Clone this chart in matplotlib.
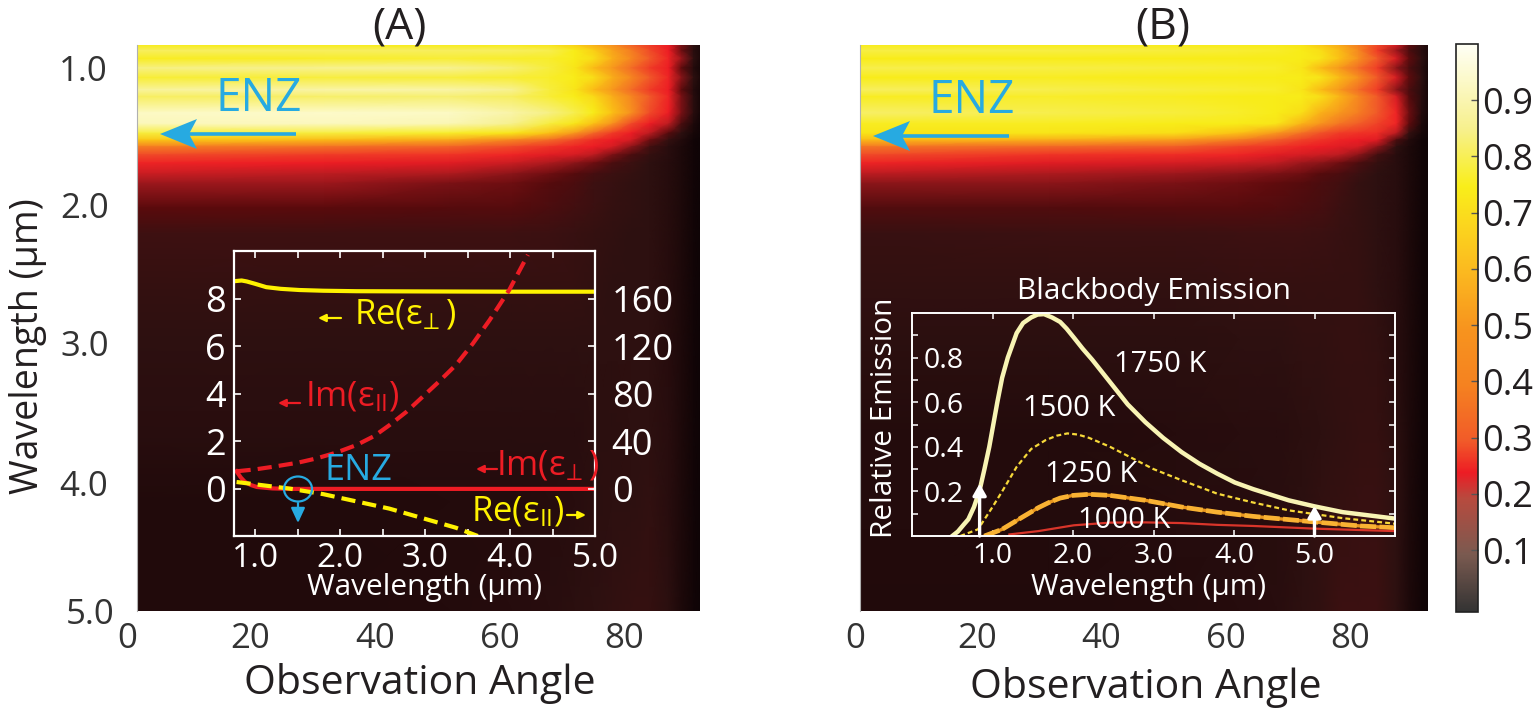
import numpy as np
import matplotlib
matplotlib.use("Agg")
import matplotlib.pyplot as plt
from matplotlib.colors import LinearSegmentedColormap, Normalize
from matplotlib.cm import ScalarMappable
from matplotlib.patches import Ellipse, Polygon
from matplotlib.transforms import Affine2D

plt.rcParams['font.family'] = ['Open Sans', 'DejaVu Sans']
plt.rcParams['mathtext.fontset'] = 'custom'
plt.rcParams['mathtext.rm'] = 'Open Sans'
plt.rcParams['mathtext.it'] = 'Open Sans'
plt.rcParams['mathtext.bf'] = 'Open Sans'

W, H = 1535, 708

# heat maps
angles = [0, 30, 50, 60, 66, 70, 73, 76, 79, 82, 85, 87, 89, 90]
wavelengths = [0.83, 0.87, 0.93, 1.00, 1.07, 1.16, 1.21, 1.33, 1.41, 1.48, 1.53, 1.58, 1.64,
               1.70, 1.78, 1.85, 2.03, 2.22, 2.60, 3.00, 3.70, 4.20, 5.00]
map_a = [
    [.72, .72, .72, .72, .70, .64, .54, .44, .34, .28, .24, .16, .08, .05],
    [.80, .80, .80, .80, .78, .72, .64, .50, .40, .30, .24, .15, .07, .05],
    [.73, .74, .75, .74, .74, .72, .68, .54, .42, .32, .25, .18, .08, .05],
    [.84, .86, .86, .82, .76, .70, .58, .46, .36, .28, .24, .14, .06, .04],
    [.75, .76, .76, .75, .74, .72, .68, .54, .42, .32, .25, .17, .08, .05],
    [.88, .90, .90, .86, .76, .70, .58, .46, .36, .28, .24, .14, .06, .04],
    [.80, .81, .82, .80, .75, .72, .67, .54, .42, .32, .25, .16, .07, .04],
    [.95, .96, .95, .90, .84, .78, .72, .60, .44, .30, .24, .16, .07, .04],
    [.93, .94, .92, .85, .76, .70, .60, .44, .30, .24, .20, .12, .05, .03],
    [.76, .76, .74, .70, .60, .46, .35, .28, .24, .20, .13, .08, .04, .03],
    [.62, .58, .52, .42, .36, .30, .26, .24, .22, .15, .09, .06, .03, .02],
    [.40, .37, .34, .30, .27, .25, .24, .22, .17, .11, .07, .05, .03, .02],
    [.30, .28, .27, .25, .23, .22, .20, .16, .12, .09, .07, .05, .03, .02],
    [.25, .24, .23, .21, .19, .17, .15, .12, .10, .08, .065, .05, .03, .02],
    [.21, .20, .19, .17, .15, .13, .115, .10, .09, .08, .065, .05, .03, .02],
    [.18, .18, .16, .15, .13, .12, .105, .095, .085, .08, .065, .05, .03, .02],
    [.135, .135, .13, .13, .12, .11, .10, .09, .085, .08, .065, .05, .03, .02],
    [.105, .105, .105, .105, .10, .095, .09, .085, .08, .08, .065, .05, .03, .02],
    [.09, .09, .09, .09, .09, .09, .085, .08, .08, .08, .065, .05, .03, .02],
    [.08, .08, .08, .08, .08, .08, .08, .08, .08, .08, .065, .05, .03, .02],
    [.07, .07, .07, .07, .07, .07, .075, .075, .08, .08, .07, .05, .03, .02],
    [.055, .055, .06, .06, .065, .07, .075, .08, .08, .085, .07, .05, .03, .02],
    [.055, .055, .06, .065, .07, .075, .08, .085, .09, .09, .075, .05, .03, .02],
]
map_b = [
    [.72, .72, .72, .72, .72, .70, .62, .52, .40, .30, .22, .14, .08, .05],
    [.77, .77, .76, .75, .74, .72, .68, .58, .42, .28, .18, .12, .07, .05],
    [.72, .72, .72, .72, .72, .72, .70, .60, .44, .32, .22, .14, .08, .05],
    [.78, .77, .76, .75, .74, .70, .58, .46, .36, .28, .17, .12, .07, .04],
    [.72, .73, .72, .72, .72, .72, .70, .58, .44, .32, .22, .14, .08, .04],
    [.80, .78, .76, .75, .74, .70, .58, .46, .36, .28, .17, .12, .07, .04],
    [.73, .74, .73, .72, .72, .72, .68, .56, .42, .32, .22, .13, .07, .04],
    [.81, .78, .76, .74, .72, .68, .55, .46, .40, .32, .25, .15, .06, .04],
    [.73, .73, .72, .72, .70, .56, .45, .38, .33, .29, .25, .14, .05, .03],
    [.70, .70, .68, .60, .46, .37, .31, .28, .27, .26, .20, .09, .04, .03],
    [.58, .54, .48, .40, .33, .29, .27, .25, .24, .23, .12, .06, .03, .02],
    [.38, .35, .33, .29, .27, .25, .24, .23, .22, .17, .08, .05, .03, .02],
    [.30, .27, .26, .25, .23, .22, .21, .20, .17, .11, .07, .05, .03, .02],
    [.25, .23, .22, .21, .20, .18, .17, .15, .12, .09, .07, .05, .03, .02],
    [.20, .19, .18, .17, .16, .15, .13, .12, .10, .08, .07, .05, .03, .02],
    [.17, .17, .16, .15, .14, .13, .12, .11, .09, .08, .07, .05, .03, .02],
    [.125, .125, .13, .13, .125, .12, .115, .10, .09, .08, .07, .05, .03, .02],
    [.095, .10, .10, .105, .105, .105, .10, .095, .09, .08, .07, .05, .03, .02],
    [.085, .085, .085, .09, .09, .09, .09, .09, .09, .08, .07, .05, .03, .02],
    [.075, .075, .075, .08, .08, .085, .085, .09, .09, .085, .07, .05, .03, .02],
    [.06, .06, .065, .07, .07, .075, .08, .085, .09, .09, .075, .05, .03, .02],
    [.06, .06, .065, .065, .07, .075, .085, .09, .095, .095, .08, .05, .03, .02],
    [.055, .055, .06, .065, .07, .08, .085, .10, .10, .10, .08, .05, .03, .02],
]

# inset A curves, left axis units
re_perp_x = [0.78, 0.84, 0.90, 1.00, 1.13, 1.30, 1.52, 1.80, 2.19, 3.00, 4.00, 5.00]
re_perp_y = [8.74, 8.76, 8.72, 8.62, 8.48, 8.41, 8.36, 8.33, 8.31, 8.30, 8.29, 8.29]
im_par_x = [0.78, 1.00, 1.21, 1.50, 1.72, 1.95, 2.19, 2.40, 2.58, 2.78, 2.97, 3.16, 3.36, 3.56, 3.76, 3.99, 4.21]
im_par_y = [0.74, 0.82, 0.93, 1.10, 1.28, 1.52, 1.84, 2.22, 2.68, 3.24, 3.87, 4.50, 5.20, 6.10, 7.10, 8.36, 9.84]
im_perp_x = [0.78, 0.83, 0.88, 0.95, 1.02, 1.20, 1.41, 2.00, 5.00]
im_perp_y = [0.74, 0.48, 0.29, 0.16, 0.08, 0.02, 0.00, 0.00, 0.00]
re_par_x = [0.78, 1.41, 1.80, 2.58, 3.36, 3.62]
re_par_y = [0.29, 0.01, -0.22, -0.83, -1.63, -1.98]

# inset B curves
bb1750_x = [.50, .57, .64, .70, .77, .84, .90, .96, 1.06, 1.12, 1.19, 1.30, 1.38, 1.48, 1.56, 1.64, 1.74, 1.84,
            1.92, 2.01, 2.12, 2.24, 2.46, 2.68, 2.90, 3.12, 3.35, 3.57, 3.79, 4.01, 4.24, 4.68, 5.00, 5.35, 6.00]
bb1750_y = [.00, .02, .05, .075, .13, .205, .30, .40, .60, .71, .80, .91, .955, .98, .993, .995, .98, .96,
            .93, .89, .84, .79, .69, .59, .51, .44, .376, .324, .28, .24, .21, .16, .133, .107, .078]
bb1500_x = [.60, .82, 1.00, 1.12, 1.30, 1.48, 1.66, 1.80, 1.93, 2.06, 2.20, 2.46, 2.73, 3.00, 3.35, 3.79, 4.24, 4.68, 5.35, 6.00]
bb1500_y = [.00, .03, .13, .20, .31, .39, .43, .45, .46, .455, .44, .40, .35, .30, .25, .19, .15, .115, .08, .055]
bb1250_x = [.90, 1.12, 1.35, 1.57, 1.70, 1.84, 2.00, 2.20, 2.46, 2.90, 3.35, 3.79, 4.24, 5.00, 5.57, 6.00]
bb1250_y = [.00, .03, .08, .127, .15, .17, .182, .187, .182, .16, .13, .107, .088, .063, .045, .037]
bb1000_x = [1.21, 1.57, 2.01, 2.46, 2.90, 3.35, 3.79, 4.24, 5.00, 6.00]
bb1000_y = [.007, .022, .048, .06, .061, .058, .05, .045, .033, .022]

map_ticks_y = [1, 2, 3, 4, 5]
map_labels_y = ['1.0', '2.0', '3.0', '4.0', '5.0']
map_ticks_x = [0, 20, 40, 60, 80]
map_labels_x = ['0', '20', '40', '60', '80']
cbar_ticks = [.1, .2, .3, .4, .5, .6, .7, .8, .9]

heat = LinearSegmentedColormap.from_list('heat', [
    (0, '#080204'), (.03, '#120507'), (.055, '#210a0b'), (.08, '#2e1010'), (.105, '#3e1011'),
    (.135, '#5a0a0c'), (.17, '#8a1519'), (.205, '#c41d22'), (.24, '#ed1c24'), (.32, '#f15a29'),
    (.45, '#f7941e'), (.6, '#fbc015'), (.72, '#f8ec18'), (.85, '#f6f08c'), (1, '#fffde0')], N=512)
bar_cmap = LinearSegmentedColormap.from_list('bar', [
    (0, '#333333'), (.1, '#7a5a50'), (.2, '#b84a3e'), (.245, '#ed1c24'), (.3, '#f15a29'),
    (.4, '#f58220'), (.5, '#f7941e'), (.6, '#fbb91f'), (.68, '#fbd51e'), (.75, '#f9ee1a'),
    (.85, '#f7f08c'), (1, '#fffff5')], N=512)
norm = Normalize(0, 1)
BLUE = '#27aae1'
RED = '#ed1c24'
YELLOW = '#fff200'
TXT = '#231f20'


def px_axes(left, top, right, bottom, **kw):
    return fig.add_axes([left / W, 1 - bottom / H, (right - left) / W, (bottom - top) / H], **kw)


def nudge(labels, offsets):
    # tick labels sit off their ticks in the picture
    for lab, (dx, dy) in zip(labels, offsets):
        lab.set_transform(lab.get_transform() + Affine2D().translate(dx, -dy))


def big_arrow(x0, x1, y):
    ov.plot([x0, x1 + 25], [y, y], color=BLUE, lw=2.6, solid_capstyle='butt')
    ov.add_patch(Polygon([(x1, y), (x1 + 37, y - 15), (x1 + 29, y), (x1 + 37, y + 15)], color=BLUE, lw=0))


def small_arrow(x0, x1, y, color):
    ov.annotate('', xy=(x1, y), xytext=(x0, y),
                arrowprops=dict(arrowstyle='-|>,head_length=0.45,head_width=0.22', color=color, lw=1.6,
                                shrinkA=0, shrinkB=0))


fig = plt.figure(figsize=(W / 100, H / 100), dpi=100, facecolor='white')

ax_a = px_axes(137, 45, 700, 611)
ax_b = px_axes(860, 45, 1428, 611)
for ax, vals in ((ax_a, map_a), (ax_b, map_b)):
    ax.pcolormesh(angles, wavelengths, np.array(vals), shading='gouraud', cmap=heat, norm=norm,
                  rasterized=True)
    ax.set_xlim(0, 90)
    ax.set_ylim(5.0, 0.83)
    ax.set_xticks(map_ticks_x, labels=map_labels_x, fontsize=25, color='#333333')
    ax.tick_params(length=0, pad=8)
    for s in ax.spines.values():
        s.set_visible(False)
    ax.spines['left'].set_visible(True)
    ax.spines['left'].set_color('#b0b0b0')

ax_a.set_yticks(map_ticks_y, labels=map_labels_y, fontsize=25, color='#333333')
nudge(ax_a.get_yticklabels(), [(-18, 0), (-17, 1), (-17, 3), (-18, 8), (-11, 0)])
ax_b.set_yticks([])
nudge(ax_a.get_xticklabels(), [(-10, 0), (-12, 0), (-12, 0), (-12, 0), (-13, 0)])
nudge(ax_b.get_xticklabels(), [(-5, 0), (-9, 0), (-11, 0), (-13, 0), (-15, 0)])

# inset A
ins_a = px_axes(234, 251, 595, 536, facecolor='none')
ins_a.plot(re_perp_x, re_perp_y, color=YELLOW, lw=3)
ins_a.plot(im_par_x, im_par_y, color=RED, lw=3, dashes=(3.4, 1.7))
ins_a.plot(im_perp_x, im_perp_y, color=RED, lw=3)
ins_a.plot(re_par_x, re_par_y, color=YELLOW, lw=3, dashes=(3.4, 1.7))
ins_a.set_xlim(0.75, 5.0)
ins_a.set_ylim(-1.98, 10.0)
ins_a.set_xticks([1, 2, 3, 4, 5], labels=['1.0', '2.0', '3.0', '4.0', '5.0'], fontsize=24, color='white')
ins_a.set_xticks([1.5, 2.5, 3.5, 4.5], minor=True)
ins_a.set_yticks([0, 2, 4, 6, 8], labels=['0', '2', '4', '6', '8'], fontsize=26, color='white')
ins_a.tick_params(which='both', direction='in', length=5, width=1.2, color='white', top=True, right=True, pad=6)
ins_a.tick_params(axis='x', pad=4)
for s in ins_a.spines.values():
    s.set_color('white')
    s.set_linewidth(1.6)
twin = ins_a.twinx()
twin.set_ylim(-1.98 * 20, 10.0 * 20)
twin.set_yticks([0, 40, 80, 120, 160], labels=['0', '40', '80', '120', '160'], fontsize=26, color='white')
twin.tick_params(direction='in', length=5, width=1.2, color='white', pad=12)
for s in twin.spines.values():
    s.set_visible(False)
twin.patch.set_visible(False)

# inset B
ins_b = px_axes(912, 313, 1395, 536, facecolor='none')
ins_b.plot(bb1750_x, bb1750_y, color='#f8f4b4', lw=3.2)
ins_b.plot(bb1500_x, bb1500_y, color='#f7d93a', lw=1.6, dashes=(2.2, 1.4))
ins_b.plot(bb1250_x, bb1250_y, color='#e8961e', lw=2.4)
ins_b.plot(bb1250_x, bb1250_y, color='#f9b233', lw=3.4, dashes=(3.4, 0.7))
ins_b.plot(bb1000_x, bb1000_y, color='#d9352a', lw=1.6)
ins_b.set_xlim(0, 6)
ins_b.set_ylim(0, 1.0)
ins_b.set_xticks([1, 2, 3, 4, 5], labels=['1.0', '2.0', '3.0', '4.0', '5.0'], fontsize=20.5, color='white')
ins_b.set_yticks([.2, .4, .6, .8], labels=['0.2', '0.4', '0.6', '0.8'], fontsize=20.5, color='white')
ins_b.set_yticks([.1, .3, .5, .7, .9], minor=True)
ins_b.tick_params(which='both', direction='in', length=4, width=1.1, color='white', top=True, right=True)
ins_b.tick_params(axis='x', pad=4)
ins_b.tick_params(axis='y', pad=-37)
for s in ins_b.spines.values():
    s.set_color('white')
    s.set_linewidth(1.4)
ins_b.annotate('', xy=(.84, .235), xytext=(.84, 0),
               arrowprops=dict(arrowstyle='-|>,head_length=0.7,head_width=0.4', color='white', lw=2.4,
                               shrinkA=0, shrinkB=0))
ins_b.annotate('', xy=(5.0, .135), xytext=(5.0, 0),
               arrowprops=dict(arrowstyle='-|>,head_length=0.7,head_width=0.4', color='white', lw=2.4,
                               shrinkA=0, shrinkB=0))

# colorbar
cax = px_axes(1456, 44, 1478, 612)
cb = fig.colorbar(ScalarMappable(Normalize(-0.01, 1.0), bar_cmap), cax=cax, ticks=cbar_ticks)
cb.ax.set_yticklabels(['%.1f' % t for t in cbar_ticks], fontsize=26, color=TXT)
cb.ax.tick_params(direction='in', length=5, width=1, color='#555555', pad=3)
cb.outline.set_edgecolor('#222222')
cb.outline.set_linewidth(1.2)

# pixel overlay for annotation
ov = fig.add_axes([0, 0, 1, 1], zorder=10)
ov.set_xlim(0, W)
ov.set_ylim(H, 0)
ov.axis('off')
ov.patch.set_visible(False)


def label(x, y, s, size, color=TXT, **kw):
    ov.text(x, y, s, fontsize=size, color=color, ha='center', va='center', **kw)


label(399, 27, '(A)', 32)
label(1163, 27, '(B)', 32)
label(420, 683, 'Observation Angle', 29.5)
label(1146, 687, 'Observation Angle', 29.5)
label(28, 346, 'Wavelength (µm)', 27, rotation=90)
label(259, 99, 'ENZ', 33, BLUE)
label(972, 101, 'ENZ', 33, BLUE)
big_arrow(296, 160, 134)
big_arrow(1009, 873, 136)

label(405, 315, r'$\mathrm{Re(\epsilon_{\!\perp})}$', 25, YELLOW)
small_arrow(341, 318, 318, YELLOW)
label(352, 397, r'$\mathrm{Im(\epsilon_{II})}$', 25, RED)
small_arrow(300, 278, 403, RED)
label(548, 466, r'$\mathrm{Im(\epsilon_{\!\perp})}$', 25, RED)
small_arrow(497, 476, 469, RED)
label(518, 512, r'$\mathrm{Re(\epsilon_{II})}$', 25, YELLOW)
small_arrow(567, 586, 515, YELLOW)
label(358, 471, 'ENZ', 26, BLUE)
ov.add_patch(Ellipse((298, 489), 28, 25, fill=False, ec=BLUE, lw=1.6))
ov.annotate('', xy=(298, 523), xytext=(298, 503),
            arrowprops=dict(arrowstyle='-|>,head_length=0.9,head_width=0.42', color=BLUE, lw=1.6,
                            shrinkA=0, shrinkB=0))
label(425, 588, 'Wavelength (µm)', 21.5, 'white')

label(1154, 291, 'Blackbody Emission', 21.5, 'white')
label(885, 418, 'Relative Emission', 21.5, 'white', rotation=90)
label(1149, 587, 'Wavelength (µm)', 21.5, 'white')
label(1160, 364, '1750 K', 21, 'white')
label(1069, 408, '1500 K', 21, 'white')
label(1091, 475, '1250 K', 21, 'white')
label(1124, 521, '1000 K', 21, 'white')

fig.savefig('out.png', dpi=100)
